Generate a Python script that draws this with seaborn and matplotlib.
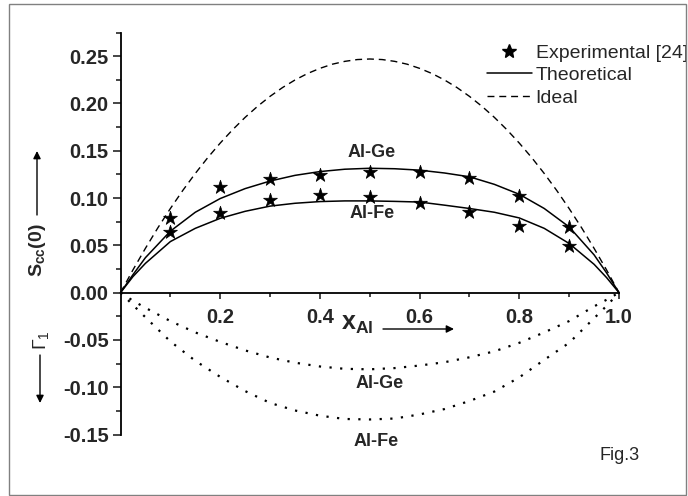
import pandas as pd
import seaborn as sns
import matplotlib
matplotlib.use('Agg')
from matplotlib import pyplot as plt
from matplotlib.lines import Line2D
from matplotlib.patches import Rectangle

# composition grid (mole fraction of Al) and curves
x_al = [0, 0.025, 0.05, 0.1, 0.15, 0.2, 0.25, 0.3, 0.35, 0.4, 0.45, 0.5,
        0.55, 0.6, 0.65, 0.7, 0.75, 0.8, 0.85, 0.9, 0.95, 0.975, 1.0]
scc_alge = [0, 0.019, 0.037, 0.065, 0.085, 0.0995, 0.110, 0.118, 0.124, 0.128, 0.1305, 0.1315,
            0.131, 0.1295, 0.1265, 0.1225, 0.1145, 0.104, 0.089, 0.0695, 0.040, 0.021, 0]
scc_alfe = [0, 0.017, 0.031, 0.054, 0.068, 0.0786, 0.086, 0.0915, 0.0945, 0.0963, 0.097, 0.097,
            0.0965, 0.0958, 0.0925, 0.089, 0.085, 0.079, 0.068, 0.052, 0.030, 0.016, 0]
g1_alge = [0, -0.0085, -0.016, -0.030, -0.042, -0.052, -0.061, -0.0685, -0.074, -0.078, -0.0805, -0.081,
           -0.0797, -0.077, -0.0735, -0.0683, -0.062, -0.053, -0.042, -0.030, -0.0145, -0.0075, 0]
g1_alfe = [0, -0.013, -0.026, -0.0515, -0.072, -0.089, -0.104, -0.1165, -0.1245, -0.130, -0.1335, -0.134,
           -0.133, -0.1287, -0.123, -0.1145, -0.1045, -0.0895, -0.071, -0.053, -0.027, -0.014, 0]

# ideal curve, read on a finer grid
x_ideal = [0, 0.025, 0.05, 0.075, 0.1, 0.125, 0.15, 0.175, 0.2, 0.225, 0.25, 0.275, 0.3, 0.325,
           0.35, 0.375, 0.4, 0.425, 0.45, 0.475, 0.5, 0.525, 0.55, 0.575, 0.6, 0.625, 0.65,
           0.675, 0.7, 0.725, 0.75, 0.775, 0.8, 0.825, 0.85, 0.875, 0.9, 0.925, 0.95, 0.975, 1.0]
ideal = [0, 0.0241, 0.0469, 0.0686, 0.0889, 0.1081, 0.126, 0.1427, 0.1581, 0.1723, 0.1853,
         0.197, 0.2075, 0.2168, 0.2248, 0.2316, 0.2371, 0.2415, 0.2445, 0.2464, 0.247,
         0.2464, 0.2445, 0.2415, 0.2371, 0.2316, 0.2248, 0.2168, 0.2075, 0.197, 0.1853,
         0.1723, 0.1581, 0.1427, 0.126, 0.1081, 0.0889, 0.0686, 0.0469, 0.0241, 0]

# experimental points [24]
x_exp = [0.1, 0.2, 0.3, 0.4, 0.5, 0.6, 0.7, 0.8, 0.9]
exp_alge = [0.0786, 0.112, 0.1199, 0.1244, 0.128, 0.128, 0.121, 0.1022, 0.0691]
exp_alfe = [0.0645, 0.0839, 0.098, 0.1033, 0.1015, 0.0952, 0.0856, 0.0705, 0.0497]

y_ticks = [-0.15, -0.10, -0.05, 0.00, 0.05, 0.10, 0.15, 0.20, 0.25]
y_labels = ['-0.15', '-0.10', '-0.05', '0.00', '0.05', '0.10', '0.15', '0.20', '0.25']
x_ticks = [0.2, 0.4, 0.6, 0.8, 1.0]
x_labels = ['0.2', '0.4', '0.6', '0.8', '1.0']

sns.set_theme(style='white')
plt.rcParams['font.family'] = ['Liberation Sans', 'DejaVu Sans']
plt.rcParams['mathtext.fontset'] = 'custom'
plt.rcParams['mathtext.rm'] = 'Liberation Sans'
plt.rcParams['mathtext.bf'] = 'Liberation Sans:bold'
plt.rcParams['mathtext.it'] = 'Liberation Sans:italic'

W, H = 688, 496
fig = plt.figure(figsize=(W / 100, H / 100), dpi=100)
ax = fig.add_axes([120.5 / W, 1 - 434.6 / H, 498.5 / W, 402.1 / H])

curves = pd.DataFrame({'x': x_al, 'alge': scc_alge, 'alfe': scc_alfe,
                       'g_alge': g1_alge, 'g_alfe': g1_alfe})
ideal_df = pd.DataFrame({'x': x_ideal, 'ideal': ideal})
exp = pd.DataFrame({'x': x_exp, 'alge': exp_alge, 'alfe': exp_alfe})

sns.lineplot(data=ideal_df, x='x', y='ideal', ax=ax, color='black', lw=1.0,
             linestyle=(0, (5, 3.5)), clip_on=False)
for col in ['alge', 'alfe']:
    sns.lineplot(data=curves, x='x', y=col, ax=ax, color='black', lw=1.1, clip_on=False)
for col in ['g_alge', 'g_alfe']:
    sns.lineplot(data=curves, x='x', y=col, ax=ax, color='black', lw=1.6,
                 linestyle=(0, (1, 3.8)), clip_on=False)
for col in ['alge', 'alfe']:
    sns.scatterplot(data=exp, x='x', y=col, ax=ax, marker='*', s=110, color='black',
                    edgecolor='black', linewidth=0.5, zorder=5)

ax.set_xlim(0, 1.0)
ax.set_ylim(-0.15, 0.275)
ax.set_xlabel('')
ax.set_ylabel('')
ax.spines['top'].set_visible(False)
ax.spines['right'].set_visible(False)
ax.spines['bottom'].set_position(('data', 0))
for s in ['left', 'bottom']:
    ax.spines[s].set_linewidth(1.3)
    ax.spines[s].set_color('black')

ax.set_yticks(y_ticks)
ax.set_yticklabels(y_labels, fontsize=14.5, fontweight='bold')
ax.set_yticks([-0.125, -0.075, -0.025, 0.025, 0.075, 0.125, 0.175, 0.225, 0.275], minor=True)
ax.set_xticks(x_ticks)
ax.set_xticklabels(x_labels, fontsize=14.5, fontweight='bold')
ax.set_xticks([0.1, 0.3, 0.5, 0.7, 0.9], minor=True)
ax.tick_params(axis='y', which='major', direction='out', length=5.5, width=1.2, pad=3, left=True)
ax.tick_params(axis='y', which='minor', direction='out', length=3.5, width=1.2, left=True)
ax.tick_params(axis='x', which='major', direction='out', length=4, width=1.2, pad=7, bottom=True)
ax.tick_params(axis='x', which='minor', direction='out', length=3, width=1.2, bottom=True)

# curve labels
lab = dict(fontsize=13, fontweight='bold', ha='center', va='center')
ax.text(0.504, 0.148, 'Al-Ge', **lab)
ax.text(0.504, 0.0837, 'Al-Fe', **lab)
ax.text(0.52, -0.0958, 'Al-Ge', **lab)
ax.text(0.5135, -0.157, 'Al-Fe', **lab)

# axis titles with arrows, in figure pixels
def fp(px, py):
    return (px / W, 1 - py / H)

fig.text(*fp(373, 324), r'x$_{\mathbf{Al}}$', fontsize=18, fontweight='bold',
         ha='right', va='center')
fig.text(*fp(37, 250), r'S$_{\mathbf{cc}}$(0)', fontsize=14, fontweight='bold',
         rotation=90, ha='center', va='center')
fig.text(*fp(41, 340), r'$\Gamma_1$', fontsize=14, rotation=90, ha='center', va='center')
arrow = dict(arrowstyle='-|>', color='black', lw=1.0, mutation_scale=11, shrinkA=0, shrinkB=0)
ax.annotate('', xy=fp(454, 329), xytext=fp(383, 329), xycoords='figure fraction', arrowprops=arrow)
ax.annotate('', xy=fp(37, 151), xytext=fp(37, 215), xycoords='figure fraction', arrowprops=arrow)
ax.annotate('', xy=fp(40, 403), xytext=fp(40, 355), xycoords='figure fraction', arrowprops=arrow)

fig.text(*fp(620, 455), 'Fig.3', fontsize=13, ha='center', va='center')

handles = [Line2D([], [], marker='*', ls='none', color='black', markersize=10),
           Line2D([], [], color='black', lw=1.1),
           Line2D([], [], color='black', lw=1.0, ls=(0, (5, 3.5)))]
ax.legend(handles, ['Experimental [24]', 'Theoretical', 'Ideal'], frameon=False,
          loc='upper left', bbox_to_anchor=fp(487, 44), bbox_transform=fig.transFigure,
          fontsize=14, handlelength=2.3, handletextpad=0.2, labelspacing=0.25,
          borderpad=0, borderaxespad=0)

fig.patches.append(Rectangle(fp(9, 495), 677 / W, 491 / H, transform=fig.transFigure,
                             fill=False, edgecolor='#808080', lw=1.0))

fig.savefig('out.png', dpi=100)
